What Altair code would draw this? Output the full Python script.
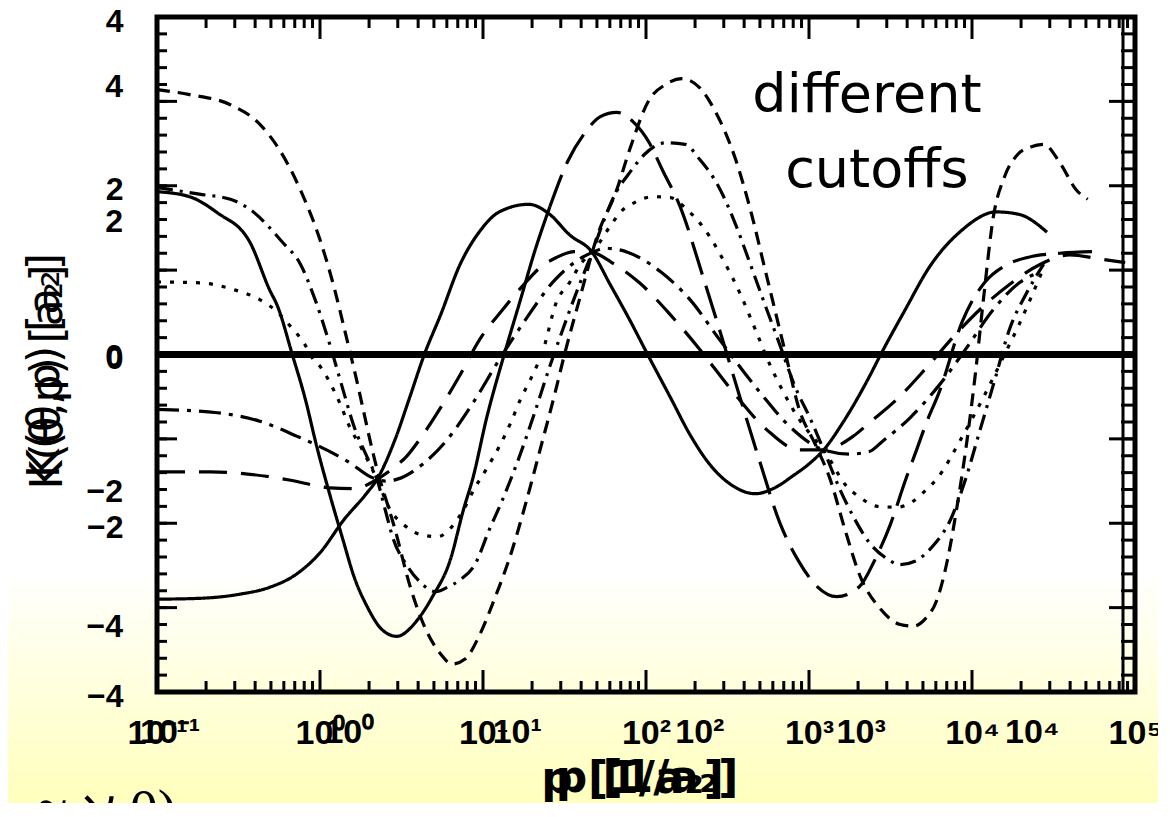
import altair as alt
import pandas as pd

# ---------------- values ----------------
# x positions are log10(p), y values are K(theta, p) in units of a_2
a_logp = [-1.0, -0.80, -0.55, -0.37, -0.25, -0.12, 0.00, 0.09, 0.15, 0.21, 0.35, 0.46, 0.55, 0.64, 0.74,
          0.81, 0.89, 0.98, 1.07, 1.17, 1.26, 1.35, 1.44, 1.50, 1.60, 1.70, 1.82, 1.90, 2.02, 2.12,
          2.22, 2.33, 2.42, 2.55, 2.64, 2.73, 2.85, 2.94, 3.04, 3.13, 3.22, 3.31, 3.44, 3.56, 3.64,
          3.71, 3.79, 3.85, 3.91, 3.97, 4.02, 4.07, 4.13, 4.20, 4.28, 4.36, 4.44, 4.54, 4.64, 4.71]
a_k = [3.14, 3.08, 2.96, 2.73, 2.43, 1.95, 1.36, 0.77, 0.30, -0.18, -1.36, -2.07, -2.73, -3.22, -3.55,
       -3.67, -3.61, -3.32, -2.90, -2.37, -1.78, -1.13, -0.47, 0.00, 0.71, 1.40, 1.95, 2.43, 3.02, 3.20,
       3.27, 3.16, 2.90, 2.31, 1.72, 1.01, 0.06, -0.65, -1.07, -1.48, -2.07, -2.61, -3.02, -3.20, -3.22,
       -3.14, -2.88, -2.43, -1.78, -1.01, -0.24, 0.65, 1.62, 2.11, 2.37, 2.46, 2.49, 2.27, 1.95, 1.84]

b_logp = [-1.0, -0.74, -0.55, -0.43, -0.23, -0.12, -0.03, 0.06, 0.14, 0.21, 0.29, 0.35, 0.40, 0.45, 0.53,
          0.61, 0.71, 0.78, 0.86, 0.95, 1.04, 1.12, 1.21, 1.31, 1.41, 1.49, 1.58, 1.67, 1.74, 1.81,
          1.89, 1.99, 2.12, 2.24, 2.33, 2.44, 2.55, 2.64, 2.73, 2.82, 2.91, 3.01, 3.09, 3.19, 3.28,
          3.37, 3.47, 3.56, 3.65, 3.76, 3.87, 3.96, 4.05, 4.14, 4.23, 4.33, 4.44]
b_k = [1.98, 1.90, 1.84, 1.72, 1.33, 1.07, 0.65, 0.12, -0.41, -0.86, -1.22, -1.48, -1.84, -2.19, -2.49,
       -2.69, -2.81, -2.76, -2.67, -2.49, -2.07, -1.72, -1.28, -0.73, -0.14, 0.30, 0.77, 1.21, 1.58, 1.90,
       2.13, 2.37, 2.51, 2.49, 2.31, 2.01, 1.54, 1.07, 0.59, 0.12, -0.36, -0.77, -1.13, -1.60, -1.95,
       -2.23, -2.41, -2.49, -2.45, -2.27, -1.95, -1.48, -0.89, -0.30, 0.30, 0.71, 1.07]

c_solid_logp = [-1.0, -0.80, -0.63, -0.43, -0.31, -0.26, -0.17, -0.09, -0.02, 0.06, 0.14, 0.21, 0.29,
                0.38, 0.47, 0.60, 0.69, 0.80, 0.88, 0.94, 1.02, 1.13, 1.23, 1.32, 1.41]
c_solid_k = [1.93, 1.87, 1.68, 1.33, 0.77, 0.57, 0.00, -0.53, -1.09, -1.66, -2.19, -2.64, -2.99,
             -3.26, -3.34, -3.14, -2.87, -2.43, -1.84, -1.45, -0.77, 0.00, 0.65, 1.24, 1.75]

c_dash_logp = [1.41, 1.52, 1.63, 1.72, 1.82, 1.92, 2.02, 2.10, 2.21, 2.35, 2.45, 2.58, 2.70, 2.82, 2.94,
               3.05, 3.17, 3.31, 3.40, 3.50, 3.59, 3.66, 3.72, 3.80, 3.94, 4.08, 4.20, 4.34, 4.54, 4.77]
c_dash_k = [1.75, 2.29, 2.64, 2.82, 2.87, 2.76, 2.51, 2.19, 1.75, 0.92, 0.30, -0.53, -1.28, -1.99, -2.46,
            -2.75, -2.87, -2.75, -2.45, -2.01, -1.50, -1.13, -0.81, -0.44, 0.39, 0.86, 1.05, 1.15, 1.20, 1.22]

d_logp = [-1.0, -0.74, -0.53, -0.37, -0.26, -0.18, -0.10, -0.04, 0.00, 0.06, 0.12, 0.18, 0.26, 0.35, 0.43,
          0.51, 0.61, 0.72, 0.81, 0.88, 0.95, 1.02, 1.10, 1.17, 1.23, 1.29, 1.37, 1.45, 1.53, 1.61,
          1.67, 1.78, 1.84, 1.94, 2.04, 2.15, 2.25, 2.33, 2.39, 2.48, 2.58, 2.67, 2.76, 2.85, 2.94,
          3.02, 3.09, 3.23, 3.31, 3.42, 3.54, 3.63, 3.71, 3.79, 3.93, 4.08, 4.20, 4.29, 4.37, 4.44]
d_k = [0.86, 0.85, 0.77, 0.65, 0.50, 0.33, 0.14, -0.06, -0.14, -0.33, -0.57, -0.85, -1.13, -1.48, -1.84,
       -2.01, -2.13, -2.16, -2.04, -1.84, -1.58, -1.36, -1.09, -0.81, -0.53, -0.30, 0.06, 0.62, 0.85, 1.10,
       1.21, 1.52, 1.68, 1.81, 1.87, 1.86, 1.72, 1.56, 1.40, 1.10, 0.71, 0.30, -0.12, -0.47, -0.77,
       -0.97, -1.13, -1.56, -1.69, -1.80, -1.81, -1.75, -1.62, -1.46, -1.01, -0.47, 0.00, 0.36, 0.71, 1.03]

e_logp = [-1.0, -0.63, -0.37, -0.14, 0.04, 0.18, 0.31, 0.35, 0.40, 0.47, 0.63, 0.78, 0.94, 1.10, 1.26,
          1.43, 1.56, 1.67, 1.75, 1.89, 2.09, 2.27, 2.45, 2.70, 2.88, 3.09, 3.25, 3.37, 3.45, 3.62,
          3.80, 3.96, 4.13, 4.29, 4.42]
e_k = [-0.65, -0.69, -0.79, -0.97, -1.13, -1.28, -1.45, -1.48, -1.50, -1.48, -1.30, -1.01, -0.57, -0.06, 0.41,
       0.86, 1.09, 1.21, 1.26, 1.21, 0.98, 0.65, 0.18, -0.45, -0.85, -1.13, -1.18, -1.15, -1.03, -0.75,
       -0.36, 0.06, 0.53, 0.85, 0.98]

f_logp = [-1.0, -0.67, -0.43, -0.18, 0.06, 0.21, 0.35, 0.46, 0.53, 0.61, 0.74, 0.86, 0.98, 1.12, 1.26,
          1.35, 1.45, 1.56, 1.67, 1.79, 1.96, 2.15, 2.33, 2.52, 2.74, 2.94, 3.09, 3.27, 3.37, 3.54,
          3.71, 3.90, 4.08, 4.23, 4.42, 4.60, 4.79, 4.94]
f_k = [-1.39, -1.39, -1.42, -1.49, -1.58, -1.59, -1.48, -1.33, -1.21, -1.01, -0.63, -0.24, 0.18, 0.53, 0.85,
       1.03, 1.15, 1.22, 1.21, 1.09, 0.85, 0.47, 0.06, -0.41, -0.89, -1.13, -1.13, -0.97, -0.81, -0.53,
       -0.18, 0.24, 0.59, 0.83, 1.07, 1.18, 1.13, 1.09]

g_logp = [-1.0, -0.74, -0.49, -0.31, -0.15, 0.00, 0.15, 0.28, 0.35, 0.46, 0.55, 0.64, 0.74, 0.86, 0.98,
          1.10, 1.28, 1.41, 1.53, 1.67, 1.78, 1.90, 2.01, 2.15, 2.27, 2.39, 2.52, 2.67, 2.79, 2.90,
          3.01, 3.09, 3.21, 3.36, 3.44, 3.59, 3.74, 3.93, 4.15, 4.29, 4.46]
g_k = [-2.90, -2.89, -2.84, -2.76, -2.61, -2.35, -1.95, -1.66, -1.48, -1.01, -0.51, 0.00, 0.47, 1.07, 1.46,
       1.69, 1.78, 1.66, 1.42, 1.21, 0.83, 0.41, 0.00, -0.51, -0.95, -1.30, -1.54, -1.65, -1.58, -1.44,
       -1.28, -1.13, -0.80, -0.30, 0.00, 0.53, 1.04, 1.46, 1.69, 1.66, 1.45]

series_names = ["a", "b", "c_solid", "c_dash", "d", "e", "f", "g"]

# axes, ticks and the overprinted second label set of the slide
x_domain = [0.1, 100000]
y_domain = [-4, 4]
x_label_values = [0.1, 1, 10, 100, 1000, 10000, 100000]
y_label_values = [-4, -2, 0, 2, 4]
x2_label_text = ["10\u207b\u00b9", "10\u2070", "10\u00b9", "10\u00b2", "10\u00b3", "10\u2074"]
x2_label_logp = [-0.92, 0.18, 1.21, 2.33, 3.32, 4.37]
y2_label_text = ["4", "2", "0", "\u22122", "\u22124"]
y2_label_k = [3.20, 1.60, 0.0, -1.60, -3.20]
x_major_ticks = [0.1, 1, 10, 100, 1000, 10000, 100000]
x_minor_ticks = [m * 10.0 ** k for k in range(-1, 5) for m in range(2, 10)]
y_major_ticks = [-4, -3, -2, -1, 0, 1, 2, 3, 4]
y_minor_ticks = [i / 5 for i in range(-20, 21)]
zero_k = [0]
annotation_text = ["different", "cutoffs"]
annotation_p = [2270, 2610]
annotation_k = [2.87, 1.99]
x_title = "p [1/a\u2082]"
y_title = "K(\u03b8,p) [a\u2082]"

# ---------------- build tables ----------------
curve_sets = [(a_logp, a_k), (b_logp, b_k), (c_solid_logp, c_solid_k), (c_dash_logp, c_dash_k),
              (d_logp, d_k), (e_logp, e_k), (f_logp, f_k), (g_logp, g_k)]
frames = []
for name, (lp, kk) in zip(series_names, curve_sets):
    frames.append(pd.DataFrame({"p": [10 ** v for v in lp], "K": kk, "series": name,
                                "i": list(range(len(lp)))}))
curves = pd.concat(frames, ignore_index=True)

W, H = 978, 675
PX_PER_K = H / (y_domain[1] - y_domain[0])        # pixels per unit of K
PX_PER_DECADE = W / 6.0                           # pixels per decade of p
LABEL_FONT = "Liberation Sans Narrow, Liberation Sans, sans-serif"

# inward frame ticks, built as two-point segments from the tick values (lengths in pixels)
tick_rows = []
tid = 0


def add_x_ticks(values, length_px, top):
    global tid
    dk = length_px / PX_PER_K
    edge = y_domain[1] if top else y_domain[0]
    inner = edge - dk if top else edge + dk
    for v in values:
        tick_rows.append({"p": v, "K": edge, "tid": tid, "j": 0})
        tick_rows.append({"p": v, "K": inner, "tid": tid, "j": 1})
        tid += 1


def add_y_ticks(values, length_px, right):
    global tid
    factor = 10 ** (length_px / PX_PER_DECADE)
    edge = x_domain[1] if right else x_domain[0]
    inner = edge / factor if right else edge * factor
    for v in values:
        tick_rows.append({"p": edge, "K": v, "tid": tid, "j": 0})
        tick_rows.append({"p": inner, "K": v, "tid": tid, "j": 1})
        tid += 1


add_x_ticks(x_major_ticks, 22, False)
add_x_ticks(x_minor_ticks, 11, False)
add_x_ticks(x_major_ticks, 22, True)
add_x_ticks(x_minor_ticks, 11, True)
add_y_ticks(y_major_ticks, 20, False)
add_y_ticks(y_minor_ticks, 10, False)
add_y_ticks(y_major_ticks, 26, True)
add_y_ticks(y_minor_ticks, 14, True)
ticks_df = pd.DataFrame(tick_rows)

sup_expr = ("datum.value < 0.5 ? '10\u207b\u00b9' : datum.value < 5 ? '10\u2070' : "
            "datum.value < 50 ? '10\u00b9' : datum.value < 500 ? '10\u00b2' : "
            "datum.value < 5000 ? '10\u00b3' : datum.value < 50000 ? '10\u2074' : '10\u2075'")

xs = alt.Scale(type="log", domain=x_domain, nice=False)
ys = alt.Scale(domain=y_domain, nice=False, zero=False)

xaxis = alt.Axis(values=x_label_values, labelExpr=sup_expr, title=x_title, grid=False, ticks=False,
                 domain=False, labelFont=LABEL_FONT, labelFontSize=34, labelFontWeight="bold",
                 labelPadding=24, labelFlush=False, labelOverlap=False, labelColor="black",
                 titleFont="DejaVu Sans", titleFontSize=44, titleFontWeight="bold", titleColor="black",
                 titleX=475, titleY=100, titleAlign="center", titleBaseline="alphabetic",
                 orient="bottom", zindex=1)
yaxis = alt.Axis(values=y_label_values, title=y_title, grid=False, ticks=False, domain=False,
                 labelFont=LABEL_FONT, labelFontSize=32, labelFontWeight="bold", labelPadding=34,
                 labelOffset=4, labelFlush=False, labelOverlap=False, labelColor="black",
                 titleFont="DejaVu Sans", titleFontSize=44, titleFontWeight="normal", titleColor="black",
                 titleX=-112, titleY=348, titleAngle=270, titleAlign="center",
                 titleBaseline="middle", orient="left", zindex=1)


def X(field):
    return alt.X(field, scale=xs, axis=xaxis)


def Y(field):
    return alt.Y(field, scale=ys, axis=yaxis)


dash_range = [[13, 8], [16, 7, 3, 7], [1, 0], [34, 12], [4, 9], [22, 8, 4, 8], [28, 14], [1, 0]]

background = alt.Chart(alt.Data(values=[{}])).mark_rect(
    color=alt.Gradient(gradient="linear",
                       stops=[alt.GradientStop(color="#ffffff", offset=0),
                              alt.GradientStop(color="#ffffb8", offset=1)],
                       x1=0, x2=0, y1=0, y2=1)).encode(
    x=alt.value(-160), x2=alt.value(1010), y=alt.value(555), y2=alt.value(800))

lines = alt.Chart(curves).mark_line(interpolate="monotone", strokeWidth=3.2, color="black",
                                    clip=True).encode(
    x=X("p:Q"), y=Y("K:Q"),
    strokeDash=alt.StrokeDash("series:N", scale=alt.Scale(domain=series_names, range=dash_range),
                              legend=None),
    detail="series:N", order="i:Q")

tick_marks = alt.Chart(ticks_df).mark_line(color="black", strokeWidth=3, strokeCap="butt").encode(
    x=X("p:Q"), y=Y("K:Q"), detail="tid:N", order="j:Q")

zero_line = alt.Chart(pd.DataFrame({"K": zero_k})).mark_rule(color="black", strokeWidth=7).encode(
    y=Y("K:Q"))

ann_df = pd.DataFrame({"text": annotation_text, "p": annotation_p, "K": annotation_k})
annotation = alt.Chart(ann_df).mark_text(font="DejaVu Sans", fontSize=54, align="center",
                                         baseline="alphabetic", color="black").encode(
    x=X("p:Q"), y=Y("K:Q"), text="text:N")

# overprinted second set of tick labels and titles
x2_df = pd.DataFrame({"text": x2_label_text, "p": [10 ** v for v in x2_label_logp]})
x2_labels = alt.Chart(x2_df).mark_text(font=LABEL_FONT, fontSize=34, fontWeight="bold", align="center",
                                       baseline="top", color="black").encode(
    x=X("p:Q"), y=alt.value(H + 24), text="text:N")

y2_df = pd.DataFrame({"text": y2_label_text, "K": y2_label_k})
y2_labels = alt.Chart(y2_df).mark_text(font=LABEL_FONT, fontSize=32, fontWeight="bold", align="right",
                                       baseline="middle", color="black", dy=2).encode(
    y=Y("K:Q"), x=alt.value(-34), text="text:N")

x2_title = alt.Chart(alt.Data(values=[{}])).mark_text(
    text=x_title, font="DejaVu Sans", fontSize=44, fontWeight="bold", align="center",
    baseline="alphabetic", color="black").encode(x=alt.value(490), y=alt.value(H + 100))

y2_title = alt.Chart(alt.Data(values=[{}])).mark_text(
    text=y_title, font="DejaVu Sans", fontSize=44, angle=270, align="center",
    baseline="middle", color="black").encode(x=alt.value(-108), y=alt.value(360))

frame = alt.Chart(alt.Data(values=[{}])).mark_rect(fill="transparent", stroke="black",
                                                   strokeWidth=5).encode(
    x=alt.value(0), x2=alt.value(W), y=alt.value(0), y2=alt.value(H))

inner_right = alt.Chart(alt.Data(values=[{}])).mark_rule(color="black", strokeWidth=3).encode(
    x=alt.value(W - 12), y=alt.value(0), y2=alt.value(H))

corner_text = alt.Chart(alt.Data(values=[{}])).mark_text(
    text="\u2248 \u2135 0)", font="Liberation Serif", fontSize=56, align="left",
    baseline="alphabetic", color="black").encode(x=alt.value(-120), y=alt.value(812))

chart = alt.layer(
    background, lines, tick_marks, zero_line,
    annotation, x2_labels, y2_labels, x2_title, y2_title, frame, inner_right, corner_text,
).properties(
    width=W, height=H,
    autosize=alt.AutoSizeParams(type="none"),
    padding={"left": 149, "top": 9, "right": 23, "bottom": 111},
    background="white",
).configure_view(stroke=None)

chart.save("out.html", embed_options={"renderer": "svg", "actions": False})
